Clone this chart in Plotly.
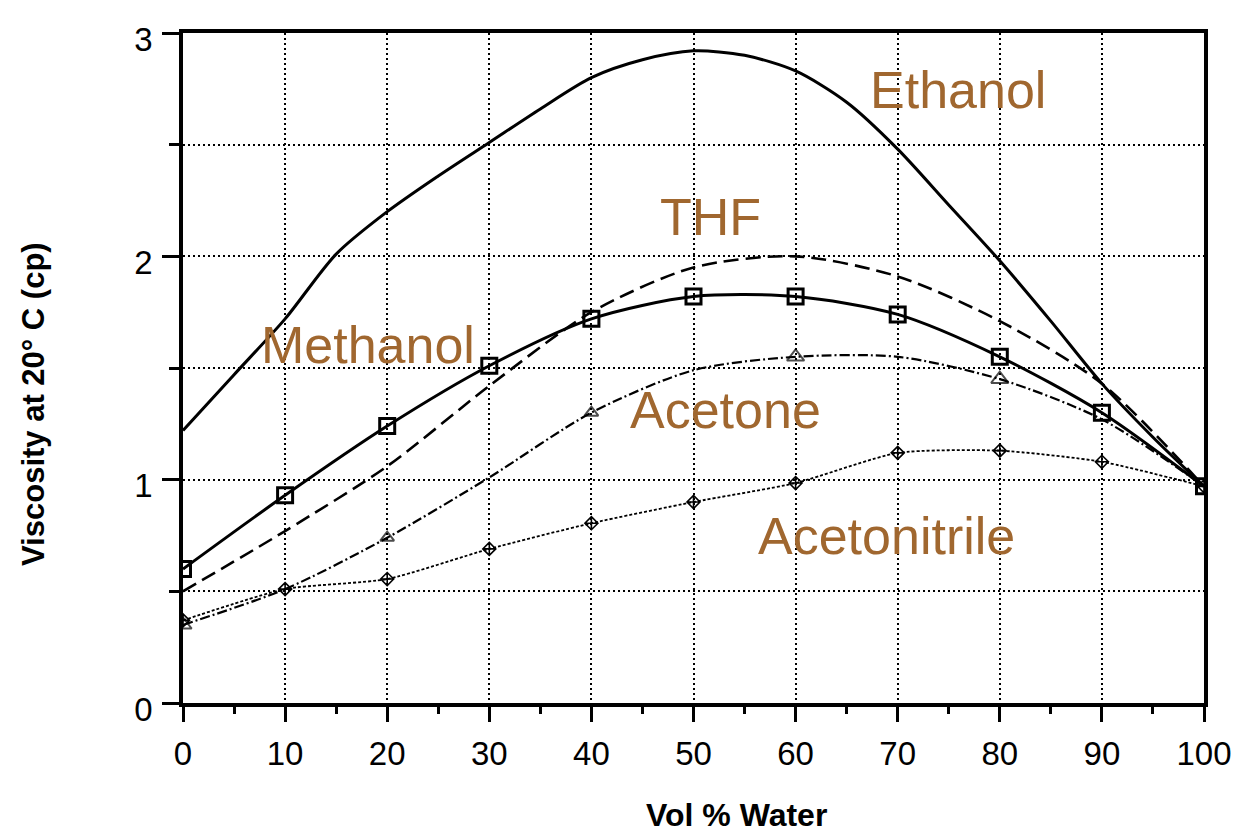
import plotly.graph_objects as go

# Vol % water in the solvent/water mixture
water_pct = [0, 10, 20, 30, 40, 50, 60, 70, 80, 90, 100]
ethanol_pct = [0, 5, 10, 15, 20, 25, 30, 35, 40, 45, 50, 55, 60, 65, 70, 75, 80, 85, 90, 95, 100]

# Viscosity at 20 °C (cP)
ethanol = [1.22, 1.47, 1.72, 2.01, 2.20, 2.36, 2.51, 2.66, 2.80, 2.88, 2.92, 2.90, 2.83, 2.69, 2.48, 2.23, 1.98, 1.71, 1.43, 1.19, 0.97]
methanol = [0.60, 0.93, 1.24, 1.51, 1.72, 1.82, 1.82, 1.74, 1.55, 1.30, 0.97]
thf = [0.50, 0.77, 1.06, 1.42, 1.75, 1.95, 2.00, 1.91, 1.71, 1.43, 0.97]
acetone = [0.35, 0.51, 0.74, 1.01, 1.30, 1.49, 1.55, 1.55, 1.45, 1.27, 0.97]
acetonitrile = [0.37, 0.51, 0.555, 0.69, 0.805, 0.90, 0.985, 1.12, 1.13, 1.08, 0.97]

# Curve labels: (text, x, y) in data units
labels = [
    ("Ethanol", 75.9, 2.745),
    ("THF", 51.7, 2.176),
    ("Methanol", 18.1, 1.603),
    ("Acetone", 53.1, 1.31),
    ("Acetonitrile", 68.9, 0.746),
]

x_ticks = [0, 10, 20, 30, 40, 50, 60, 70, 80, 90, 100]
y_ticks = [0, 1, 2, 3]

BLACK = "black"
LABEL_COLOR = "#A0672F"

fig = go.Figure()

fig.add_trace(go.Scatter(
    x=ethanol_pct, y=ethanol, mode="lines", name="Ethanol",
    line=dict(color=BLACK, width=3, shape="spline", smoothing=0.8),
))
fig.add_trace(go.Scatter(
    x=water_pct, y=thf, mode="lines", name="THF",
    line=dict(color=BLACK, width=2.6, shape="spline", smoothing=0.8, dash="15px,7px"),
))
fig.add_trace(go.Scatter(
    x=water_pct, y=acetonitrile, mode="lines+markers", name="Acetonitrile",
    line=dict(color=BLACK, width=1.8, shape="spline", smoothing=0.6, dash="3px,2px"),
    marker=dict(symbol="diamond-cross-open", size=10, color=BLACK, line=dict(width=1.6, color=BLACK)),
))
fig.add_trace(go.Scatter(
    x=water_pct, y=acetone, mode="lines+markers", name="Acetone",
    line=dict(color=BLACK, width=2.2, shape="spline", smoothing=0.8, dash="10px,3px,2px,3px"),
    marker=dict(symbol="triangle-up-open", size=[15, 0, 12, 0, 12, 0, 15, 0, 15, 0, 0],
                color=BLACK, line=dict(width=2, color=BLACK)),
))
fig.add_trace(go.Scatter(
    x=water_pct, y=methanol, mode="lines+markers", name="Methanol",
    line=dict(color=BLACK, width=3, shape="spline", smoothing=0.8),
    marker=dict(symbol="square-open", size=15, color=BLACK, line=dict(width=3, color=BLACK)),
))

for text, lx, ly in labels:
    fig.add_annotation(
        x=lx, y=ly, xref="x", yref="y", text=text, showarrow=False,
        xanchor="center", yanchor="middle",
        font=dict(family="Liberation Sans, Arial, sans-serif", size=52, color=LABEL_COLOR),
    )

# Axis titles
fig.add_annotation(
    x=(736 - 183) / 1021, y=-(815 - 703) / 670, xref="paper", yref="paper",
    text="<b>Vol % Water</b>", showarrow=False, xanchor="center", yanchor="middle",
    font=dict(family="Liberation Sans, Arial, sans-serif", size=32, color=BLACK),
)
fig.add_annotation(
    x=-(183 - 33) / 1021, y=(703 - 404) / 670, xref="paper", yref="paper",
    text="<b>Viscosity at 20° C (cp)</b>", showarrow=False, textangle=-90,
    xanchor="center", yanchor="middle",
    font=dict(family="Liberation Sans, Arial, sans-serif", size=31, color=BLACK),
)

tick_font = dict(family="Liberation Sans, Arial, sans-serif", size=33, color=BLACK)

fig.update_xaxes(
    range=[0, 100], tickvals=x_ticks, ticktext=[str(v) for v in x_ticks],
    ticks="outside", ticklen=15, tickwidth=3, tickcolor=BLACK,
    showline=True, linewidth=3.5, linecolor=BLACK, mirror=True,
    showgrid=True, gridcolor=BLACK, gridwidth=2, griddash="2px,3px",
    zeroline=False, tickfont=tick_font, ticklabelstandoff=4, automargin=False,
    minor=dict(dtick=5, ticks="outside", ticklen=7, tickwidth=3, tickcolor=BLACK, showgrid=False),
)
fig.update_yaxes(
    range=[0, 3], tickvals=y_ticks, ticktext=[str(v) for v in y_ticks],
    ticks="outside", ticklen=17, tickwidth=3, tickcolor=BLACK,
    showline=True, linewidth=3.5, linecolor=BLACK, mirror=True,
    showgrid=True, gridcolor=BLACK, gridwidth=2, griddash="2px,3px",
    zeroline=False, tickfont=tick_font, ticklabelshift=6, ticklabelstandoff=3, automargin=False,
    minor=dict(dtick=0.5, ticks="outside", ticklen=10, tickwidth=3, tickcolor=BLACK,
               showgrid=True, gridcolor=BLACK, gridwidth=2, griddash="2px,3px"),
)

fig.update_layout(
    width=1237, height=835,
    margin=dict(l=183, r=33, t=33, b=132),
    paper_bgcolor="white", plot_bgcolor="white",
    showlegend=False,
)

fig.write_html("out.html")
